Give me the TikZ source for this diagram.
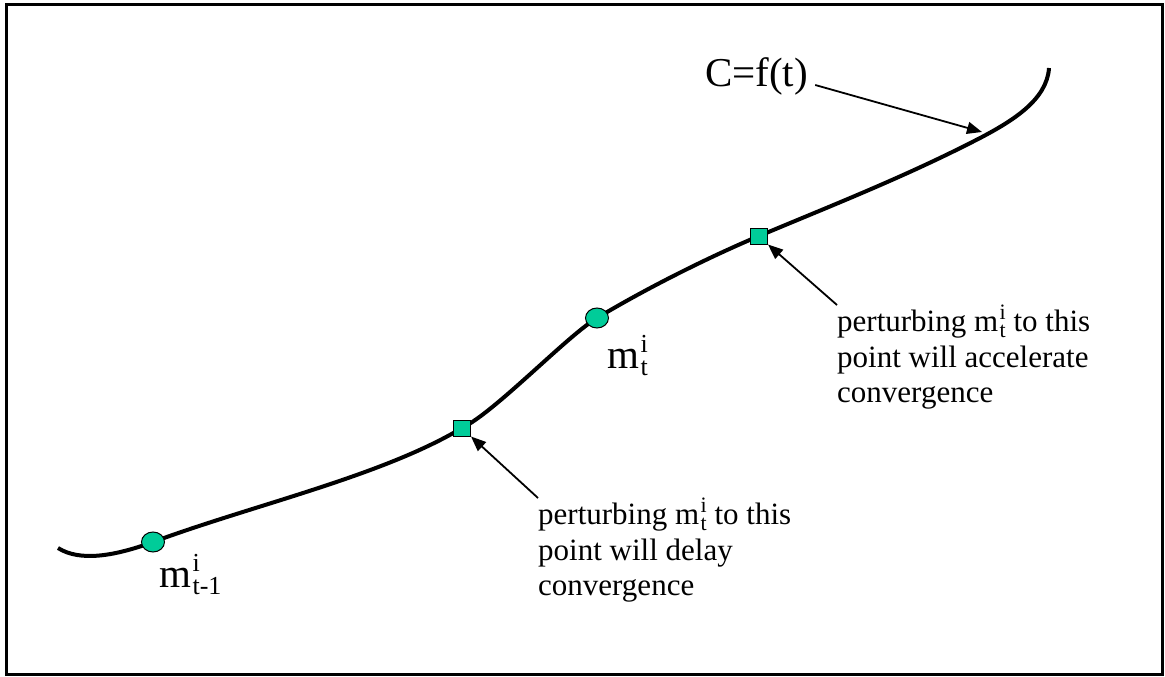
\documentclass[tikz,border=0pt]{standalone}
\usepackage{fontspec}
\setmainfont{Liberation Serif}
\usetikzlibrary{arrows.meta,shapes.geometric}
\definecolor{markfill}{RGB}{0,204,153}
% m with superscript i and subscript #1, script size #2
\newcommand{\mvar}[2]{m\kern1.5pt\rlap{\raisebox{0.38em}{\fontsize{#2}{#2}\selectfont i}}\raisebox{-0.18em}{\fontsize{#2}{#2}\selectfont #1}}
\begin{document}
\begin{tikzpicture}[x=1pt,y=-1pt,
  curveline/.style={line width=4pt},
  dot/.style={ellipse, draw, line width=1pt, fill=markfill, minimum width=23pt, minimum height=20pt, inner sep=0pt},
  sqmark/.style={rectangle, draw, line width=1pt, fill=markfill, minimum width=17pt, minimum height=16pt, inner sep=0pt},
  pointer/.style={line width=1.8pt, -{Triangle[length=15pt,width=12pt]}},
  note/.style={font=\fontsize{31}{35.5}\selectfont, align=left, inner sep=0pt, anchor=north west},
  lab/.style={font=\fontsize{41}{46}\selectfont, inner sep=0pt, anchor=base west}]
\useasboundingbox (0,0) rectangle (1165,677);
\draw[line width=3pt] (6,5) rectangle (1162,674);
% markers' positions
\coordinate (p1) at (153,542);
\coordinate (p2) at (462,428);
\coordinate (p3) at (597,318);
\coordinate (p4) at (759,236);
% curve C = f(t)
\draw[curveline] (58,548) .. controls (80,562) and (115,556) .. (p1)
  .. controls (253,505) and (382,476) .. (p2)
  .. controls (495,412) and (567,336) .. (p3)
  .. controls (647,288) and (709,257) .. (p4)
  .. controls (834,204.5) and (907,176) .. (982,137)
  .. controls (1012,121) and (1047,100) .. (1049,68);
% markers
\node[dot] (c1) at (p1) {};
\node[sqmark] (s1) at (p2) {};
\node[dot] (c2) at (p3) {};
\node[sqmark] (s2) at (p4) {};
% labels
\node[lab] (l1) at (159,587) {\mvar{t-1}{26}};
\node[lab] (l2) at (607,368) {\mvar{t}{26}};
\node[font=\fontsize{41}{48}\selectfont, inner sep=0pt, anchor=base west] (cf) at (705,87) {C=f(t)};
\node[note] (n1) at (538,498) {perturbing \mvar{t}{22} to this\\point will delay\\convergence};
\node[note] (n2) at (837,305) {perturbing \mvar{t}{22} to this\\point will accelerate\\convergence};
% pointers
\coordinate (ctip) at (982,132);
\draw[pointer] (n1.north west) -- (s1.south east);
\draw[pointer] (n2.north west) -- (s2.south east);
\draw[pointer] ([xshift=7pt,yshift=2pt]cf.base east) -- (ctip);
\end{tikzpicture}
\end{document}
